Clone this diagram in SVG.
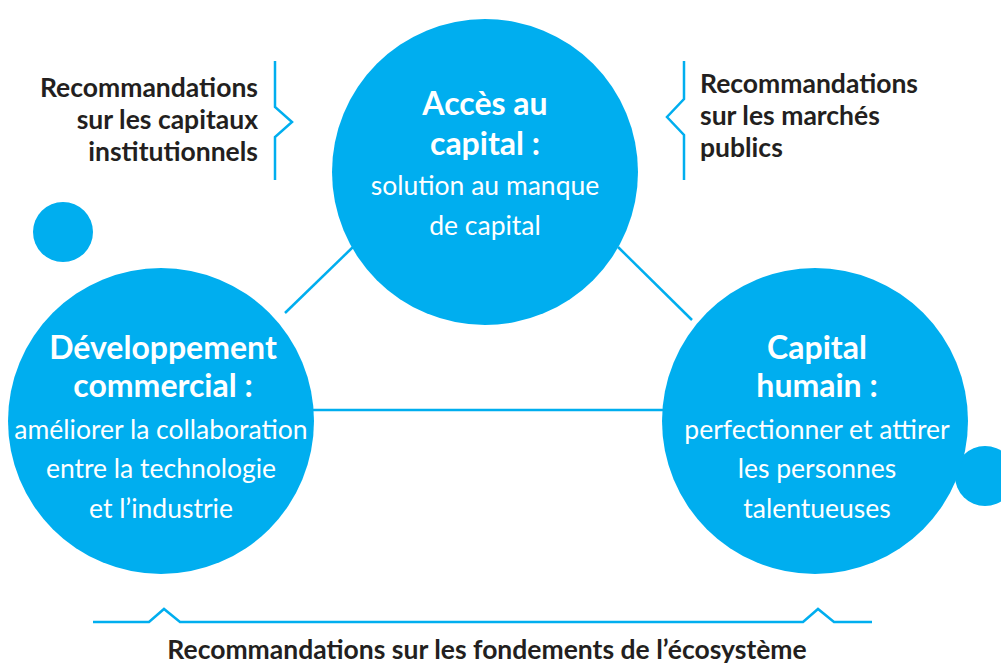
<svg xmlns="http://www.w3.org/2000/svg" width="1001" height="664" viewBox="0 0 1001 664">
<style>
.c{fill:#00AEEF}
.ln{stroke:#00AEEF;stroke-width:2.5;fill:none}
.h{font-family:Lato,"Open Sans",sans-serif;font-weight:bold;font-size:32px;fill:#fff;text-anchor:middle}
.b{font-family:Lato,"Open Sans",sans-serif;font-size:26.5px;fill:#fff;text-anchor:middle}
.l{font-family:Lato,"Open Sans",sans-serif;font-weight:bold;font-size:26.5px;fill:#231F20}
</style>
<rect width="1001" height="664" fill="#fff"/>
<g id="connectors">
<line class="ln" x1="285" y1="313" x2="353" y2="247"/>
<line class="ln" x1="618" y1="247" x2="692" y2="320"/>
<line class="ln" x1="300" y1="410" x2="680" y2="410"/>
<path class="ln" d="M275,61 V107 L292,122 L275,137 V180"/>
<path class="ln" d="M684,61 V99 L667,117 L684,135 V180"/>
<path class="ln" d="M93,622 H149 L164,609 L180,622 H803 L818,609 L834,622 H872"/>
</g>
<g id="dot-left"><circle class="c" cx="63" cy="232" r="30"/></g>
<g id="dot-right"><circle class="c" cx="985" cy="476" r="30"/></g>
<g id="node-acces">
<circle class="c" cx="485" cy="172" r="153"/>
<text class="h" x="485" y="115">Accès au</text>
<text class="h" x="485" y="155">capital :</text>
<text class="b" x="485" y="195">solution au manque</text>
<text class="b" x="485" y="235">de capital</text>
</g>
<g id="node-dev">
<circle class="c" cx="161" cy="421" r="153"/>
<text class="h" x="163" y="359">Développement</text>
<text class="h" x="163" y="397">commercial :</text>
<text class="b" x="161" y="439">améliorer la collaboration</text>
<text class="b" x="161" y="478">entre la technologie</text>
<text class="b" x="161" y="518">et l’industrie</text>
</g>
<g id="node-humain">
<circle class="c" cx="815" cy="421" r="153"/>
<text class="h" x="817" y="359">Capital</text>
<text class="h" x="817" y="397">humain :</text>
<text class="b" x="817" y="439">perfectionner et attirer</text>
<text class="b" x="817" y="478">les personnes</text>
<text class="b" x="817" y="518">talentueuses</text>
</g>
<g id="label-capitaux" text-anchor="end">
<text class="l" x="258" y="97">Recommandations</text>
<text class="l" x="258" y="129">sur les capitaux</text>
<text class="l" x="258" y="161">institutionnels</text>
</g>
<g id="label-marches">
<text class="l" x="700" y="93">Recommandations</text>
<text class="l" x="700" y="125">sur les marchés</text>
<text class="l" x="700" y="157">publics</text>
</g>
<g id="label-ecosysteme">
<text class="l" x="487" y="659" text-anchor="middle">Recommandations sur les fondements de l’écosystème</text>
</g>
</svg>
